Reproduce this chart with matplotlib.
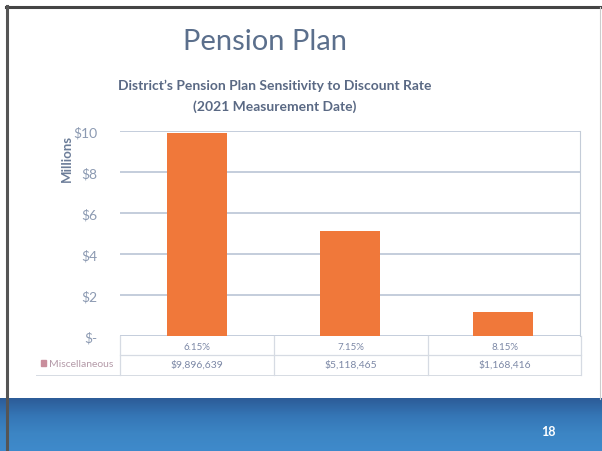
import matplotlib.pyplot as plt
import numpy as np
from matplotlib.patches import Rectangle
from matplotlib.lines import Line2D

# data
rates = ["6.15%", "7.15%", "8.15%"]
liability = [9896639, 5118465, 1168416]
liability_labels = ["$9,896,639", "$5,118,465", "$1,168,416"]
series_name = "Miscellaneous"
yticks = [0, 2, 4, 6, 8, 10]
ytick_labels = ["$-", "$2", "$4", "$6", "$8", "$10"]

W, H = 602, 452
plt.rcParams['font.family'] = ['Lato', 'DejaVu Sans']

fig = plt.figure(figsize=(W / 100, H / 100), dpi=100)


def fx(x):
    return x / W


def fy(y):
    return 1 - y / H


# slide border
fig.add_artist(Line2D([fx(6), fx(600)], [fy(7.5), fy(7.5)], color='#444444', lw=2.2))
fig.add_artist(Line2D([fx(7), fx(7)], [fy(7), fy(452)], color='#555555', lw=2.2))
fig.add_artist(Line2D([fx(600), fx(600)], [fy(8), fy(400)], color='#cccccc', lw=0.8))

# blue footer band
band = fig.add_axes([0, 0, 1, fy(399)])
grad = np.linspace(0, 1, 60).reshape(-1, 1)
band.imshow(grad, aspect='auto', cmap=plt.matplotlib.colors.LinearSegmentedColormap.from_list(
    'band', ['#2c5c98', '#3576b6', '#3c85c4', '#3f8acb']), extent=[0, 1, 0, 1])
band.set_axis_off()
fig.text(fx(548), fy(432), "18", color='white', fontsize=9, fontweight='bold',
         ha='center', va='center')

# titles
fig.text(fx(265), fy(42), "Pension Plan", color='#5b6f8c', fontsize=21,
         ha='center', va='center')
fig.text(fx(275), fy(86), "District\u2019s Pension Plan Sensitivity to Discount Rate",
         color='#5a6984', fontsize=10, fontweight='bold', ha='center', va='center')
fig.text(fx(275), fy(107), "(2021 Measurement Date)",
         color='#5a6984', fontsize=10, fontweight='bold', ha='center', va='center')

# chart
ax = fig.add_axes([fx(120), fy(337), fx(580) - fx(120), fy(132) - fy(337)])
x = np.arange(len(rates))
ax.bar(x, np.array(liability) / 1e6, width=0.39, color='#f0783a', zorder=3)
ax.set_xlim(-0.5, 2.5)
ax.set_ylim(0, 10)
ax.set_yticks(yticks)
ax.set_yticklabels(ytick_labels, color='#8c9ab2', fontsize=10)
ax.tick_params(axis='y', length=0, pad=16)
ax.set_xticks([])
ax.grid(axis='y', color='#b4c0d2', lw=1.1, zorder=0)
for s in ['top', 'left', 'bottom']:
    ax.spines[s].set_visible(False)
ax.spines['right'].set_color('#c4ccd8')
ax.set_ylabel("Millions", color='#6b7c98', fontsize=9.5, fontweight='bold', va='center')
ax.yaxis.set_label_coords((fx(67) - fx(120)) / (fx(580) - fx(120)),
                          (fy(158) - fy(337)) / (fy(132) - fy(337)))

# data table below the chart
line_c = '#d6dbe3'
for xv in [120, 274, 428, 581]:
    fig.add_artist(Line2D([fx(xv), fx(xv)], [fy(337), fy(376)], color=line_c, lw=0.9))
fig.add_artist(Line2D([fx(120), fx(581)], [fy(356), fy(356)], color=line_c, lw=0.9))
fig.add_artist(Line2D([fx(36), fx(581)], [fy(376), fy(376)], color=line_c, lw=0.7))
for i, (r, v) in enumerate(zip(rates, liability_labels)):
    cx = 197 + 154 * i
    fig.text(fx(cx), fy(347), r, color='#7c88a6', fontsize=7, ha='center', va='center')
    fig.text(fx(cx), fy(365), v, color='#7c88a6', fontsize=7.5, ha='center', va='center')
fig.add_artist(Rectangle((fx(41), fy(367)), fx(5), fy(361) - fy(367),
                         color='#c98e9c', transform=fig.transFigure))
fig.text(fx(49), fy(365), series_name, color='#b49aa8', fontsize=7.5,
         ha='left', va='center')

fig.savefig("out.png", dpi=100)
